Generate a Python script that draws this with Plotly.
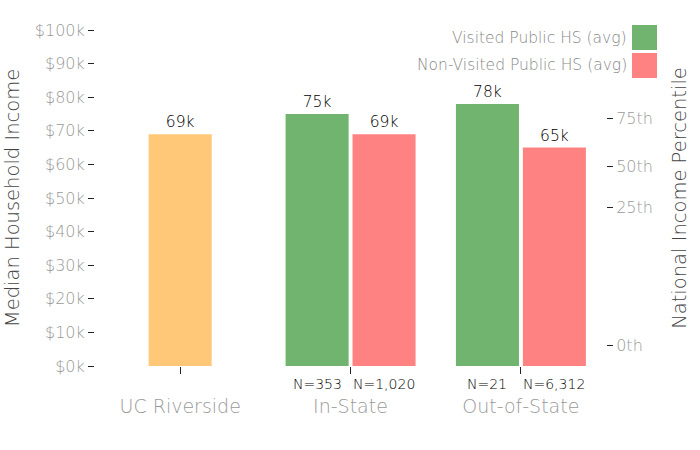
import plotly.graph_objects as go

# ---- data ----
categories = ["UC Riverside", "In-State", "Out-of-State"]
uc_value = [69]
visited_values = [75, 78]
nonvisited_values = [69, 65]
visited_n = ["N=353", "N=21"]
nonvisited_n = ["N=1,020", "N=6,312"]
left_tickvals = [0, 10, 20, 30, 40, 50, 60, 70, 80, 90, 100]
left_ticktext = ["$%dk" % v for v in left_tickvals]
pct_tickvals = [6.25, 47.3, 59.5, 73.8]
pct_ticktext = ["0th", "25th", "50th", "75th"]
legend_names = ["Visited Public HS (avg)", "Non-Visited Public HS (avg)"]

FONT = "DejaVu Sans"
W = 200
GREEN = "#71b46f"
RED = "#ff8282"
ORANGE = "#ffc878"
LBL = dict(color="black", size=15.5, family=FONT, weight=W)
BW = 0.37
OFF_G = -0.381
OFF_R = 0.012

fig = go.Figure()
fig.add_trace(go.Bar(
    x=categories[:1], y=uc_value, width=BW, offset=-0.185,
    marker=dict(color=ORANGE, line=dict(width=0)),
    text=["%dk" % v for v in uc_value], textposition="outside",
    textfont=LBL, cliponaxis=False, showlegend=False))
fig.add_trace(go.Bar(
    x=categories[1:], y=visited_values, width=BW, offset=OFF_G,
    marker=dict(color=GREEN, line=dict(width=0)), name=legend_names[0],
    text=["%dk" % v for v in visited_values], textposition="outside",
    textfont=LBL, cliponaxis=False, showlegend=False))
fig.add_trace(go.Bar(
    x=categories[1:], y=nonvisited_values, width=BW, offset=OFF_R,
    marker=dict(color=RED, line=dict(width=0)), name=legend_names[1],
    text=["%dk" % v for v in nonvisited_values], textposition="outside",
    textfont=LBL, cliponaxis=False, showlegend=False))
# invisible trace to activate right axis
fig.add_trace(go.Scatter(x=categories, y=[None] * 3, yaxis="y2",
                         showlegend=False, hoverinfo="skip"))

annotations = []
for i, (a, b) in enumerate(zip(visited_n, nonvisited_n)):
    annotations.append(dict(x=i + 1 + OFF_G + BW / 2, y=-18 / 336, xref="x", yref="paper",
                            text=a, showarrow=False, yanchor="middle",
                            font=dict(size=14, color="black", family=FONT, weight=W)))
    annotations.append(dict(x=i + 1 + OFF_R + BW / 2, y=-18 / 336, xref="x", yref="paper",
                            text=b, showarrow=False, yanchor="middle",
                            font=dict(size=14, color="black", family=FONT, weight=W)))

# legend drawn manually (swatch on right of text)
shapes = []
legend_colors = [GREEN, RED]
for j, (name, col) in enumerate(zip(legend_names, legend_colors)):
    y0 = 25 + j * 28
    shapes.append(dict(type="rect", xref="paper", yref="paper",
                       x0=(632 - 95) / 511, x1=(657 - 95) / 511,
                       y0=(366 - y0) / 336, y1=(366 - y0 - 25) / 336,
                       fillcolor=col, line=dict(width=0)))
    annotations.append(dict(x=(629 - 95) / 511, y=(366 - y0 - 12.5) / 336,
                            xref="paper", yref="paper", xanchor="right",
                            yanchor="middle", text=name, showarrow=False,
                            font=dict(size=15.5, color="#888", family=FONT, weight=W)))

fig.update_layout(
    width=700, height=450,
    margin=dict(l=95, r=94, t=30, b=84),
    paper_bgcolor="white", plot_bgcolor="white",
    barmode="overlay",
    font=dict(family=FONT, weight=W),
    showlegend=False,
    annotations=annotations,
    shapes=shapes,
    xaxis=dict(type="category", range=[-0.5, 2.5], showgrid=False,
               zeroline=False, showline=False,
               ticks="outside", ticklen=7, tickcolor="#222",
               tickfont=dict(size=19, color="#999", family=FONT, weight=W),
               ticklabelstandoff=16),
    yaxis=dict(range=[0, 100], tickvals=left_tickvals, ticktext=left_ticktext,
               showgrid=False, zeroline=False, showline=False,
               ticks="outside", ticklen=6, tickcolor="#222",
               tickfont=dict(size=16, color="#999", family=FONT, weight=W),
               title=dict(text="Median Household Income", standoff=9,
                          font=dict(size=19.5, color="#444", family=FONT, weight=W))),
    yaxis2=dict(range=[0, 100], overlaying="y", side="right",
                tickvals=pct_tickvals, ticktext=pct_ticktext,
                showgrid=False, zeroline=False, showline=False,
                ticks="outside", ticklen=6, tickcolor="#222",
                tickfont=dict(size=16, color="#999", family=FONT, weight=W),
                title=dict(text="National Income Percentile", standoff=20,
                           font=dict(size=19.5, color="#444", family=FONT, weight=W))),
)

fig.write_html("out.html")
